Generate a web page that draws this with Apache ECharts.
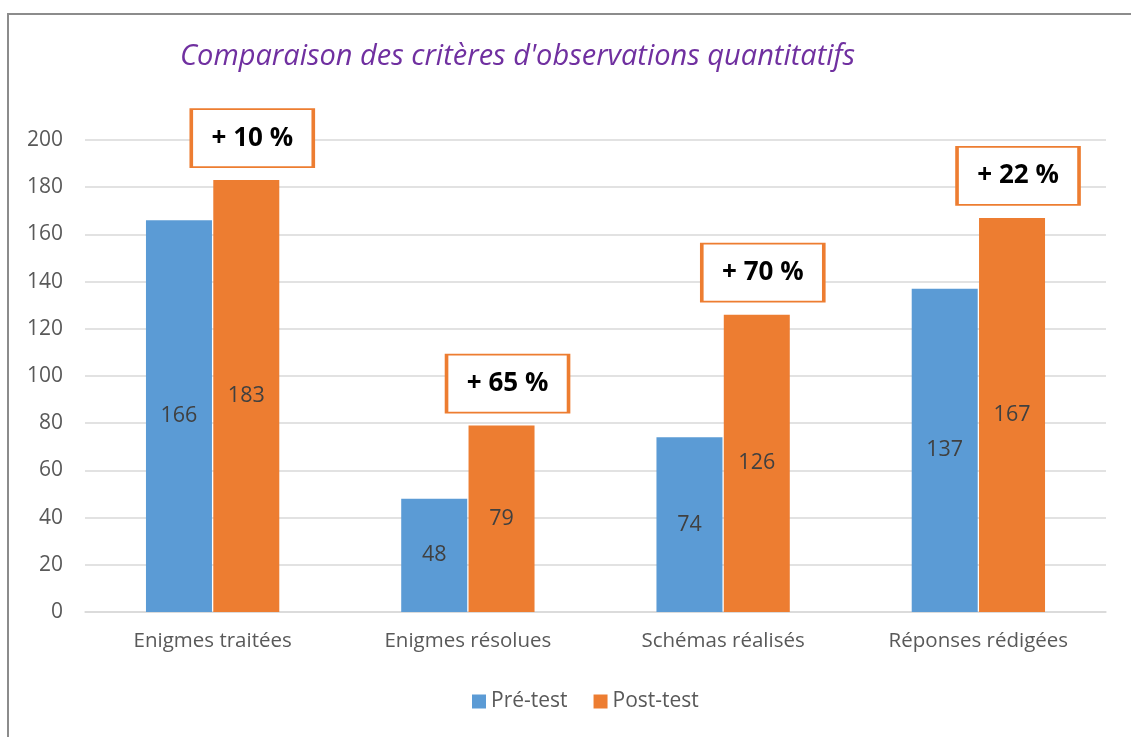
<!DOCTYPE html>
<html>
<head>
<meta charset="utf-8">
<script src="https://cdn.jsdelivr.net/npm/echarts@6/dist/echarts.min.js"></script>
<style>
    html, body { margin: 0; padding: 0; background: #fff; }
    #frame { position: absolute; left: 7px; top: 13px; width: 1124px; height: 724px;
             border-left: 2px solid #8c8c8c; border-top: 2px solid #8c8c8c; }
    #chart { position: absolute; left: 0; top: 0; width: 1131px; height: 737px; }
</style>
</head>
<body>
<div id="frame"></div>
<div id="chart"></div>
<script>
    // données
    var categories = ['Enigmes traitées', 'Enigmes résolues', 'Schémas réalisés', 'Réponses rédigées'];
    var preTest = [166, 48, 74, 137];
    var postTest = [183, 79, 126, 167];
    var gains = ['+ 10 %', '+ 65 %', '+ 70 %', '+ 22 %'];
    var yTicks = { min: 0, max: 200, interval: 20 };

    var font = '"Open Sans", "Noto Sans", sans-serif';
    var myChart = echarts.init(document.getElementById('chart'));

    var option = {
        animation: false,
        textStyle: { fontFamily: font },
        title: {
            text: "Comparaison des critères d'observations quantitatifs",
            left: 175,
            top: 37,
            textStyle: {
                color: '#7030a0',
                fontStyle: 'italic',
                fontWeight: 'normal',
                fontSize: 29,
                fontFamily: font
            }
        },
        legend: {
            data: ['Pré-test', 'Post-test'],
            bottom: 20,
            left: 467,
            itemWidth: 14,
            itemHeight: 14,
            itemGap: 26,
            icon: 'rect',
            textStyle: { color: '#595959', fontSize: 21, fontFamily: font }
        },
        grid: { left: 85, right: 25, top: 140, bottom: 125 },
        xAxis: {
            type: 'category',
            data: categories,
            axisTick: { show: false },
            axisLine: { lineStyle: { color: '#d9d9d9', width: 1.5 } },
            axisLabel: { color: '#595959', fontSize: 20.5, margin: 19, fontFamily: font }
        },
        yAxis: {
            type: 'value',
            min: yTicks.min,
            max: yTicks.max,
            interval: yTicks.interval,
            axisLine: { show: false },
            axisTick: { show: false },
            axisLabel: { color: '#595959', fontSize: 21, margin: 22, fontFamily: font },
            splitLine: { lineStyle: { color: '#d9d9d9', width: 1.5 } }
        },
        series: [
            {
                name: 'Pré-test',
                type: 'bar',
                data: preTest,
                barWidth: 66,
                barGap: '2%',
                itemStyle: { color: '#5b9bd5' },
                label: { show: true, position: 'inside', color: '#404040', fontSize: 21.5, fontFamily: font }
            },
            {
                name: 'Post-test',
                type: 'bar',
                data: postTest,
                barWidth: 66,
                itemStyle: { color: '#ed7d31' },
                label: { show: true, position: 'inside', color: '#404040', fontSize: 21.5, fontFamily: font },
                markPoint: {
                    symbol: 'rect',
                    symbolSize: [122, 58],
                    symbolOffset: [6, -42],
                    itemStyle: { color: '#ffffff', borderColor: '#ed7d31', borderWidth: 2.5 },
                    label: {
                        show: true,
                        position: 'inside',
                        color: '#000000',
                        fontSize: 26,
                        fontWeight: 'bold',
                        fontFamily: font,
                        formatter: function (p) { return p.name; }
                    },
                    data: postTest.map(function (v, i) {
                        return { name: gains[i], coord: [i, v] };
                    })
                }
            }
        ]
    };
    myChart.setOption(option);
</script>
</body>
</html>
